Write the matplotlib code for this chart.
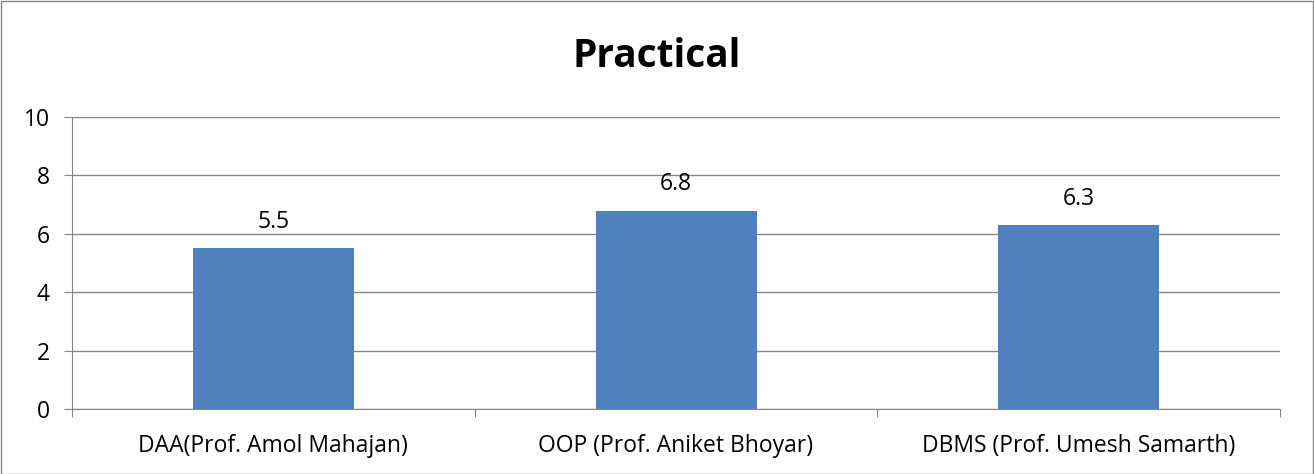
import matplotlib.pyplot as plt
import numpy as np

subjects = ['DAA(Prof. Amol Mahajan)', 'OOP (Prof. Aniket Bhoyar)', 'DBMS (Prof. Umesh Samarth)']
scores = [5.5, 6.8, 6.3]
y_ticks = [0, 2, 4, 6, 8, 10]

plt.rcParams['font.family'] = ['Open Sans', 'DejaVu Sans']
grey = '#868686'

fig = plt.figure(figsize=(13.14, 4.74), dpi=100)
ax = fig.add_axes([0.0548, 0.137, 0.9194, 0.616])

x = np.arange(len(subjects))
bars = ax.bar(x, scores, width=0.4, color='#4F81BD', zorder=3)
for b, v in zip(bars, scores):
    ax.text(b.get_x() + b.get_width() / 2, v + 0.5, f'{v}', ha='center', va='bottom', fontsize=16.5)

ax.set_xlim(-0.5, len(subjects) - 0.5)
ax.set_ylim(0, 10)
ax.set_yticks(y_ticks)
ax.tick_params(axis='y', labelsize=16.5, length=6, color=grey, pad=10)
ax.yaxis.grid(True, color=grey, linewidth=1, zorder=0)

# category boundaries as major ticks, labels on minor ticks
ax.set_xticks(np.arange(-0.5, len(subjects)), labels=[''] * (len(subjects) + 1))
ax.tick_params(axis='x', which='major', length=6, color=grey)
ax.set_xticks(x, labels=subjects, minor=True)
ax.tick_params(axis='x', which='minor', length=0, labelsize=16.5, pad=18)

for s in ['top', 'right']:
    ax.spines[s].set_visible(False)
for s in ['left', 'bottom']:
    ax.spines[s].set_color(grey)

fig.text(0.5, 0.88, 'Practical', ha='center', va='center', fontsize=28, fontweight='bold')
fig.patches.append(plt.Rectangle((0.001, 0.001), 0.998, 0.997, transform=fig.transFigure,
                                 fill=False, edgecolor=grey, linewidth=1))

fig.savefig('out.png', dpi=100)
